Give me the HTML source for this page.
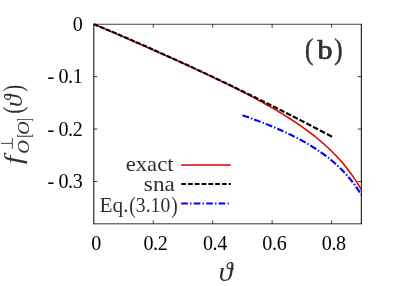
<!DOCTYPE html>
<html><head><meta charset="utf-8"><title>plot</title>
<style>
html,body{margin:0;padding:0;background:#fff;}
body{width:407px;height:286px;overflow:hidden;font-family:"Liberation Serif",serif;}
svg{display:block;will-change:transform;}
text{font-family:"Liberation Serif",serif;}
</style></head><body>
<svg width="407" height="286" viewBox="0 0 407 286">
<rect width="407" height="286" fill="#fff"/>
<!-- frame -->
<g stroke="#000" fill="none">
<line x1="93.8" y1="24.25" x2="361.3" y2="24.25" stroke-width="0.75"/>
<line x1="93.8" y1="23.85" x2="93.8" y2="224.20000000000002" stroke-width="1.0"/>
<line x1="361.3" y1="23.85" x2="361.3" y2="224.20000000000002" stroke-width="1.0"/>
<line x1="93.3" y1="223.8" x2="361.8" y2="223.8" stroke-width="0.8"/>
<g stroke-width="0.75"><line x1="153.24" y1="223.8" x2="153.24" y2="220.3"/><line x1="153.24" y1="24.25" x2="153.24" y2="27.75"/><line x1="212.69" y1="223.8" x2="212.69" y2="220.3"/><line x1="212.69" y1="24.25" x2="212.69" y2="27.75"/><line x1="272.13" y1="223.8" x2="272.13" y2="220.3"/><line x1="272.13" y1="24.25" x2="272.13" y2="27.75"/><line x1="331.58" y1="223.8" x2="331.58" y2="220.3"/><line x1="331.58" y1="24.25" x2="331.58" y2="27.75"/><line x1="93.8" y1="76.63" x2="97.3" y2="76.63"/><line x1="361.3" y1="76.63" x2="357.8" y2="76.63"/><line x1="93.8" y1="129.06" x2="97.3" y2="129.06"/><line x1="361.3" y1="129.06" x2="357.8" y2="129.06"/><line x1="93.8" y1="181.49" x2="97.3" y2="181.49"/><line x1="361.3" y1="181.49" x2="357.8" y2="181.49"/></g>
</g>
<!-- curves -->
<path d="M93.80,24.10 L95.14,24.68 L96.49,25.26 L97.83,25.84 L99.18,26.43 L100.52,27.01 L101.87,27.59 L103.21,28.17 L104.55,28.75 L105.90,29.34 L107.24,29.92 L108.59,30.50 L109.93,31.08 L111.27,31.67 L112.62,32.25 L113.96,32.83 L115.31,33.42 L116.65,34.00 L118.00,34.59 L119.34,35.17 L120.68,35.75 L122.03,36.34 L123.37,36.92 L124.72,37.51 L126.06,38.09 L127.41,38.68 L128.75,39.27 L130.09,39.85 L131.44,40.44 L132.78,41.03 L134.13,41.61 L135.47,42.20 L136.82,42.79 L138.16,43.38 L139.50,43.97 L140.85,44.56 L142.19,45.15 L143.54,45.74 L144.88,46.33 L146.22,46.92 L147.57,47.51 L148.91,48.10 L150.26,48.69 L151.60,49.29 L152.95,49.88 L154.29,50.47 L155.63,51.07 L156.98,51.66 L158.32,52.26 L159.67,52.86 L161.01,53.45 L162.36,54.05 L163.70,54.65 L165.04,55.25 L166.39,55.85 L167.73,56.45 L169.08,57.05 L170.42,57.65 L171.76,58.25 L173.11,58.86 L174.45,59.46 L175.80,60.07 L177.14,60.67 L178.49,61.28 L179.83,61.89 L181.17,62.49 L182.52,63.10 L183.86,63.71 L185.21,64.33 L186.55,64.94 L187.90,65.55 L189.24,66.17 L190.58,66.78 L191.93,67.40 L193.27,68.02 L194.62,68.64 L195.96,69.26 L197.31,69.88 L198.65,70.50 L199.99,71.13 L201.34,71.75 L202.68,72.38 L204.03,73.01 L205.37,73.64 L206.71,74.27 L208.06,74.90 L209.40,75.53 L210.75,76.17 L212.09,76.81 L213.44,77.45 L214.78,78.09 L216.12,78.73 L217.47,79.37 L218.81,80.02 L220.16,80.67 L221.50,81.32 L222.85,81.97 L224.19,82.62 L225.53,83.28 L226.88,83.94 L228.22,84.60 L229.57,85.26 L230.91,85.93 L232.25,86.60 L233.60,87.27 L234.94,87.94 L236.29,88.61 L237.63,89.29 L238.98,89.97 L240.32,90.65 L241.66,91.34 L243.01,92.03 L244.35,92.72 L245.70,93.41 L247.04,94.11 L248.39,94.81 L249.73,95.52 L251.07,96.22 L252.42,96.94 L253.76,97.65 L255.11,98.37 L256.45,99.09 L257.79,99.82 L259.14,100.55 L260.48,101.28 L261.83,102.02 L263.17,102.76 L264.52,103.51 L265.86,104.26 L267.20,105.02 L268.55,105.78 L269.89,106.55 L271.24,107.32 L272.58,108.09 L273.93,108.88 L275.27,109.66 L276.61,110.46 L277.96,111.26 L279.30,112.06 L280.65,112.87 L281.99,113.69 L283.34,114.52 L284.68,115.35 L286.02,116.19 L287.37,117.03 L288.71,117.89 L290.06,118.75 L291.40,119.62 L292.74,120.50 L294.09,121.38 L295.43,122.28 L296.78,123.18 L298.12,124.10 L299.47,125.02 L300.81,125.96 L302.15,126.90 L303.50,127.86 L304.84,128.83 L306.19,129.80 L307.53,130.79 L308.88,131.80 L310.22,132.81 L311.56,133.84 L312.91,134.89 L314.25,135.95 L315.60,137.02 L316.94,138.11 L318.28,139.21 L319.63,140.34 L320.97,141.48 L322.32,142.63 L323.66,143.81 L325.01,145.01 L326.35,146.23 L327.69,147.47 L329.04,148.73 L330.38,150.02 L331.73,151.33 L333.07,152.66 L334.42,154.03 L335.76,155.42 L337.10,156.84 L338.45,158.29 L339.79,159.78 L341.14,161.29 L342.48,162.85 L343.83,164.44 L345.17,166.07 L346.51,167.75 L347.86,169.46 L349.20,171.23 L350.55,173.04 L351.89,174.91 L353.23,176.82 L354.58,178.80 L355.92,180.84 L357.27,182.94 L358.61,185.12 L359.96,187.36 L361.30,189.69" fill="none" stroke="#d60000" stroke-width="1.5"/>
<path d="M93.80,24.10 L94.44,24.37 L95.08,24.63 L95.72,24.90 L96.36,25.17 L97.00,25.43 L97.64,25.70 L98.28,25.97M99.85,26.63 L100.49,26.89 L101.13,27.16 L101.77,27.43 L102.41,27.70 L103.05,27.97 L103.69,28.24 L104.33,28.51M105.90,29.17 L106.54,29.44 L107.18,29.71 L107.82,29.98 L108.46,30.25 L109.10,30.52 L109.74,30.79 L110.38,31.06M111.96,31.73 L112.60,32.00 L113.24,32.27 L113.88,32.55 L114.52,32.82 L115.16,33.09 L115.80,33.36 L116.44,33.64M118.01,34.31 L118.65,34.58 L119.29,34.86 L119.93,35.13 L120.57,35.40 L121.21,35.68 L121.85,35.95 L122.49,36.23M124.06,36.91 L124.70,37.18 L125.35,37.46 L125.99,37.73 L126.63,38.01 L127.27,38.29 L127.91,38.56 L128.55,38.84M130.12,39.52 L130.76,39.80 L131.40,40.08 L132.04,40.35 L132.68,40.63 L133.33,40.91 L133.97,41.19 L134.61,41.47M136.18,42.16 L136.82,42.44 L137.46,42.72 L138.11,43.00 L138.75,43.28 L139.39,43.56 L140.03,43.84 L140.67,44.12M142.25,44.81 L142.81,45.06 L143.37,45.30 L143.93,45.55 L144.49,45.80 L145.06,46.04 L145.62,46.29 L146.18,46.54 L146.74,46.79M148.32,47.48 L148.88,47.73 L149.44,47.98 L150.00,48.23 L150.57,48.48 L151.13,48.73 L151.69,48.98 L152.25,49.23 L152.81,49.48M154.39,50.18 L154.96,50.43 L155.52,50.68 L156.08,50.93 L156.65,51.18 L157.21,51.43 L157.77,51.68 L158.33,51.93 L158.90,52.19M160.48,52.89 L161.04,53.15 L161.61,53.40 L162.17,53.65 L162.73,53.90 L163.30,54.16 L163.86,54.41 L164.42,54.66 L164.99,54.92M166.57,55.63 L167.14,55.88 L167.70,56.14 L168.27,56.39 L168.83,56.65 L169.39,56.90 L169.96,57.16 L170.52,57.41 L171.09,57.67M172.67,58.39 L173.24,58.65 L173.81,58.90 L174.37,59.16 L174.94,59.42 L175.50,59.67 L176.07,59.93 L176.63,60.19 L177.20,60.45M178.79,61.17 L179.36,61.43 L179.92,61.69 L180.49,61.95 L181.06,62.21 L181.62,62.47 L182.19,62.73 L182.76,62.99 L183.32,63.25M184.92,63.98 L185.48,64.24 L186.05,64.50 L186.62,64.76 L187.19,65.02 L187.76,65.28 L188.33,65.55 L188.89,65.81 L189.46,66.07M191.06,66.81 L191.63,67.07 L192.20,67.33 L192.77,67.60 L193.34,67.86 L193.91,68.13 L194.48,68.39 L195.05,68.65 L195.62,68.92M197.22,69.66 L197.79,69.93 L198.36,70.20 L198.93,70.46 L199.50,70.73 L200.07,70.99 L200.64,71.26 L201.22,71.53 L201.79,71.79M203.39,72.55 L203.96,72.81 L204.54,73.08 L205.11,73.35 L205.68,73.62 L206.26,73.89 L206.83,74.16 L207.40,74.43 L207.98,74.70M209.59,75.46 L210.16,75.73 L210.74,76.00 L211.31,76.27 L211.89,76.54 L212.46,76.81 L213.04,77.08 L213.61,77.36 L214.19,77.63M215.80,78.39 L216.38,78.67 L216.96,78.94 L217.53,79.22 L218.11,79.49 L218.69,79.76 L219.27,80.04 L219.84,80.31 L220.42,80.59M222.04,81.36 L222.62,81.64 L223.20,81.91 L223.78,82.19 L224.36,82.47 L224.94,82.75 L225.52,83.02 L226.10,83.30 L226.68,83.58M228.31,84.36 L228.89,84.64 L229.47,84.92 L230.05,85.20 L230.63,85.48 L231.22,85.76 L231.80,86.04 L232.38,86.32 L232.96,86.60M234.60,87.39 L235.18,87.67 L235.77,87.95 L236.35,88.24 L236.94,88.52 L237.52,88.80 L238.10,89.09 L238.69,89.37 L239.27,89.65M240.92,90.45 L241.50,90.74 L242.09,91.02 L242.68,91.31 L243.27,91.60 L243.85,91.88 L244.44,92.17 L245.03,92.46 L245.62,92.74M247.27,93.55 L247.86,93.84 L248.45,94.13 L249.04,94.42 L249.63,94.71 L250.22,95.00 L250.81,95.29 L251.40,95.58 L251.99,95.87M253.65,96.68 L254.25,96.97 L254.84,97.27 L255.43,97.56 L256.03,97.85 L256.62,98.15 L257.21,98.44 L257.81,98.73 L258.40,99.03M260.07,99.85 L260.67,100.15 L261.27,100.44 L261.86,100.74 L262.46,101.04 L263.06,101.33 L263.66,101.63 L264.25,101.93 L264.85,102.22M266.53,103.06 L267.13,103.36 L267.73,103.66 L268.33,103.96 L268.93,104.26 L269.54,104.56 L270.14,104.86 L270.74,105.16 L271.34,105.46M273.03,106.31 L273.63,106.61 L274.24,106.92 L274.84,107.22 L275.45,107.52 L276.05,107.83 L276.66,108.13 L277.26,108.44 L277.87,108.74M279.57,109.60 L280.18,109.91 L280.79,110.22 L281.40,110.52 L282.01,110.83 L282.62,111.14 L283.23,111.45 L283.84,111.76 L284.45,112.07M286.16,112.93 L286.77,113.25 L287.39,113.56 L288.00,113.87 L288.61,114.18 L289.23,114.50 L289.84,114.81 L290.46,115.12 L291.07,115.43M292.80,116.31 L293.41,116.63 L294.03,116.95 L294.65,117.26 L295.27,117.58 L295.89,117.90 L296.51,118.21 L297.13,118.53 L297.75,118.85M299.48,119.74 L300.04,120.03 L300.59,120.31 L301.15,120.60 L301.70,120.88 L302.26,121.17 L302.81,121.46 L303.37,121.74 L303.92,122.03 L304.48,122.31M306.23,123.22 L306.79,123.51 L307.35,123.80 L307.91,124.09 L308.47,124.38 L309.02,124.67 L309.58,124.96 L310.14,125.25 L310.70,125.54 L311.26,125.83M313.03,126.75 L313.59,127.04 L314.16,127.34 L314.72,127.63 L315.29,127.93 L315.85,128.22 L316.42,128.52 L316.98,128.81 L317.54,129.11 L318.11,129.40M319.89,130.33 L320.46,130.63 L321.03,130.93 L321.60,131.23 L322.17,131.53 L322.74,131.83 L323.31,132.13 L323.88,132.43 L324.45,132.73 L325.02,133.03M326.82,133.97 L327.40,134.28 L327.97,134.58 L328.55,134.89 L329.12,135.19 L329.70,135.49 L330.27,135.80 L330.85,136.10 L331.42,136.41 L332.00,136.71" fill="none" stroke="#000" stroke-width="2.15"/>
<path d="M242.50,115.27 L243.15,115.50 L243.80,115.72 L244.46,115.95 L245.11,116.18 L245.76,116.40 L246.41,116.63 L247.06,116.86 L247.71,117.09 L248.36,117.32 L249.01,117.56M250.99,118.27 L251.42,118.43 L251.86,118.59 L252.30,118.75M254.18,119.43 L254.83,119.67 L255.47,119.91 L256.12,120.15 L256.77,120.40 L257.41,120.64 L258.06,120.88 L258.70,121.13 L259.35,121.37 L259.99,121.62 L260.64,121.86M262.60,122.62 L263.25,122.87 L263.90,123.13M265.76,123.86 L266.40,124.12 L267.04,124.38 L267.68,124.63 L268.32,124.89 L268.96,125.15 L269.60,125.41 L270.24,125.67 L270.88,125.93 L271.52,126.20 L272.15,126.46M274.09,127.27 L274.73,127.55 L275.38,127.82M277.22,128.61 L277.85,128.89 L278.48,129.16 L279.11,129.44 L279.74,129.72 L280.38,130.00 L281.01,130.28 L281.64,130.56 L282.26,130.84 L282.89,131.13 L283.52,131.41M285.43,132.29 L286.06,132.59 L286.70,132.88M288.51,133.74 L289.13,134.04 L289.75,134.34 L290.37,134.64 L290.99,134.94 L291.61,135.24 L292.23,135.55 L292.85,135.85 L293.46,136.16 L294.08,136.47 L294.70,136.78M296.57,137.74 L297.19,138.06 L297.81,138.39M299.58,139.32 L300.18,139.65 L300.79,139.97 L301.40,140.30 L302.00,140.63 L302.61,140.97 L303.21,141.30 L303.81,141.64 L304.42,141.98 L305.02,142.31 L305.62,142.66M307.44,143.71 L307.84,143.94 L308.24,144.18 L308.64,144.42M310.36,145.44 L310.95,145.80 L311.54,146.16 L312.12,146.53 L312.71,146.89 L313.29,147.26 L313.88,147.62 L314.46,148.00 L315.04,148.37 L315.62,148.74 L316.20,149.12M317.95,150.28 L318.33,150.54 L318.72,150.80 L319.11,151.06M320.75,152.20 L321.32,152.59 L321.88,152.99 L322.44,153.39 L323.00,153.80 L323.56,154.20 L324.12,154.61 L324.67,155.02 L325.23,155.43 L325.78,155.85 L326.33,156.26M327.99,157.55 L328.36,157.83 L328.73,158.12 L329.09,158.41M330.65,159.67 L331.18,160.11 L331.71,160.55 L332.24,160.99 L332.77,161.44 L333.29,161.88 L333.81,162.33 L334.34,162.79 L334.85,163.24 L335.37,163.70 L335.88,164.16M337.43,165.58 L337.78,165.89 L338.12,166.21 L338.46,166.53M339.90,167.92 L340.39,168.40 L340.89,168.88 L341.37,169.37 L341.86,169.86 L342.34,170.35 L342.82,170.85 L343.30,171.35 L343.78,171.85 L344.25,172.35 L344.72,172.85M346.14,174.40 L346.45,174.75 L346.76,175.10 L347.07,175.45M348.38,176.96 L348.83,177.48 L349.27,178.01 L349.71,178.54 L350.15,179.07 L350.59,179.61 L351.02,180.15 L351.45,180.68 L351.88,181.23 L352.31,181.77 L352.73,182.32M353.99,183.99 L354.27,184.37 L354.55,184.74 L354.82,185.12M355.99,186.74 L356.39,187.31 L356.78,187.88 L357.17,188.44 L357.56,189.02 L357.94,189.59 L358.32,190.16 L358.70,190.74 L359.08,191.32 L359.45,191.90 L359.82,192.48M360.93,194.26 L361.12,194.56 L361.30,194.86" fill="none" stroke="#0000ff" stroke-width="2.1"/>
<!-- tick labels -->
<g font-size="20.1" fill="#000" letter-spacing="-0.4"><text x="96.00" y="249.8" text-anchor="middle">0</text><text x="155.44" y="249.8" text-anchor="middle">0.2</text><text x="214.89" y="249.8" text-anchor="middle">0.4</text><text x="274.33" y="249.8" text-anchor="middle">0.6</text><text x="333.78" y="249.8" text-anchor="middle">0.8</text><text x="82.4" y="30.80" text-anchor="end">0</text><text x="82.4" y="83.23" text-anchor="end">- 0.1</text><text x="82.4" y="135.66" text-anchor="end">- 0.2</text><text x="82.4" y="188.09" text-anchor="end">- 0.3</text></g>
<!-- panel label -->
<g fill="#303030"><text transform="translate(305.10,58.60) scale(0.820,1)" font-size="30.4" stroke="#303030" stroke-width="0.55" stroke-linejoin="round">(</text><text transform="translate(317.40,58.60) scale(1.144,1)" font-size="26.3" stroke="#303030" stroke-width="0.75" stroke-linejoin="round">b</text><text transform="translate(334.30,58.60) scale(0.820,1)" font-size="30.4" stroke="#303030" stroke-width="0.55" stroke-linejoin="round">)</text></g>
<!-- legend -->
<g fill="#303030"><text transform="translate(125.71,171.30) scale(1.106,1)" font-size="20.5">exact</text><text transform="translate(143.85,190.90) scale(1.133,1)" font-size="20.5">sna</text><text transform="translate(99.59,212.30) scale(1.035,1)" font-size="20.6">Eq.</text><text transform="translate(129.14,212.90) scale(0.854,1)" font-size="22.8">(</text><text transform="translate(135.86,212.30) scale(0.954,1)" font-size="20.6">3.10</text><text transform="translate(171.27,212.90) scale(0.854,1)" font-size="22.8">)</text></g>
<line x1="181.1" y1="165.0" x2="230.8" y2="165.0" stroke="#d60000" stroke-width="1.5"/>
<line x1="181.2" y1="184.0" x2="230.8" y2="184.0" stroke="#000" stroke-width="1.95" stroke-dasharray="4.7 2.1"/>
<line x1="181.2" y1="203.4" x2="228.8" y2="203.4" stroke="#0000ff" stroke-width="2.0" stroke-dasharray="6.6 2.3 1.4 2.2"/>
<!-- x label -->
<g fill="#303030"><text transform="translate(218.74,281.20) scale(1.013,1)" font-size="28.0" font-style="italic">ϑ</text></g>
<!-- y label -->
<g transform="translate(21.7,164) rotate(-90)" fill="#303030"><text transform="translate(-0.03,0.00) scale(1.164,1)" font-size="25.2" font-style="italic">f</text><text transform="translate(10.35,7.10) scale(1.069,1)" font-size="17.6" font-style="italic">O</text><text transform="translate(26.40,8.10) scale(0.550,1)" font-size="19.6">[</text><text transform="translate(29.27,7.10) scale(1.051,1)" font-size="17.6" font-style="italic">O</text><text transform="translate(42.21,8.10) scale(0.550,1)" font-size="19.6">]</text><text transform="translate(50.34,0.40) scale(0.787,1)" font-size="27.7">(</text><text transform="translate(57.29,-0.20) scale(1.000,1)" font-size="25.1" font-style="italic">ϑ</text><text transform="translate(72.32,0.40) scale(0.759,1)" font-size="27.7">)</text><g stroke="#333" stroke-width="0.9" fill="none"><line x1="20.6" y1="-9.4" x2="20.6" y2="-20.7"/><line x1="15.2" y1="-9.4" x2="26.0" y2="-9.4"/></g></g>
</svg>
</body></html>
